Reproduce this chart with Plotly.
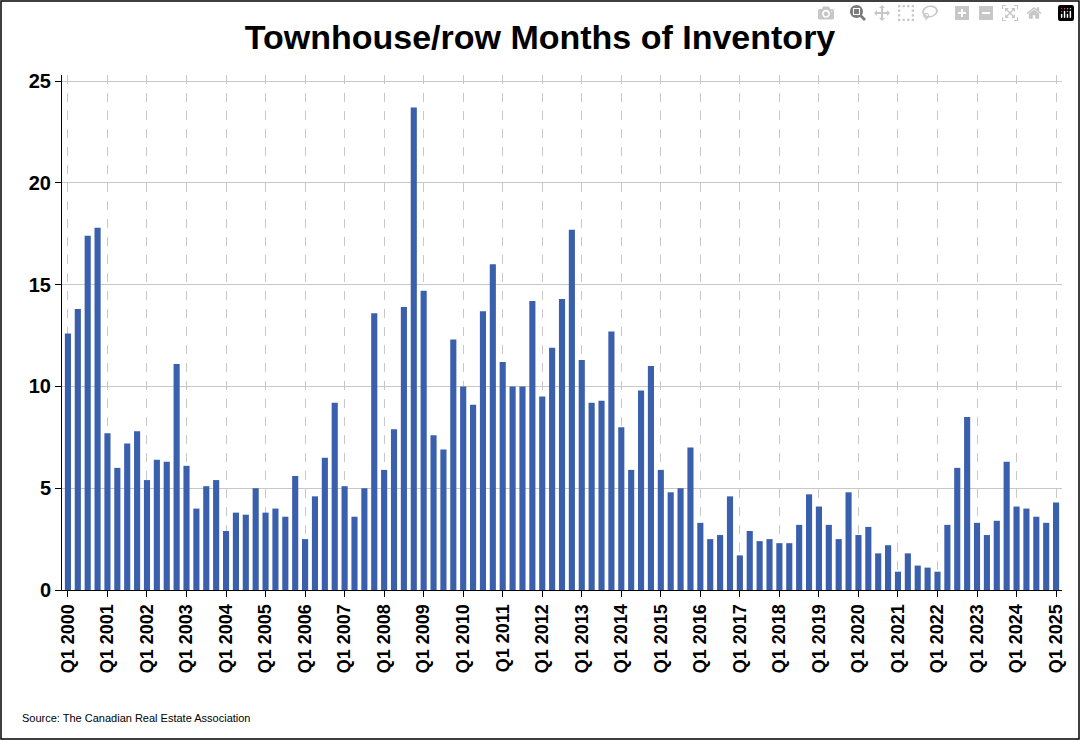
import plotly.graph_objects as go

years = list(range(2000, 2026))
quarters = [f"Q{q} {y}" for y in years for q in range(1, 5)][:101]
values = [12.6, 13.8, 17.4, 17.8,
          7.7, 6.0, 7.2, 7.8,
          5.4, 6.4, 6.3, 11.1,
          6.1, 4.0, 5.1, 5.4,
          2.9, 3.8, 3.7, 5.0,
          3.8, 4.0, 3.6, 5.6,
          2.5, 4.6, 6.5, 9.2,
          5.1, 3.6, 5.0, 13.6,
          5.9, 7.9, 13.9, 23.7,
          14.7, 7.6, 6.9, 12.3,
          10.0, 9.1, 13.7, 16.0,
          11.2, 10.0, 10.0, 14.2,
          9.5, 11.9, 14.3, 17.7,
          11.3, 9.2, 9.3, 12.7,
          8.0, 5.9, 9.8, 11.0,
          5.9, 4.8, 5.0, 7.0,
          3.3, 2.5, 2.7, 4.6,
          1.7, 2.9, 2.4, 2.5,
          2.3, 2.3, 3.2, 4.7,
          4.1, 3.2, 2.5, 4.8,
          2.7, 3.1, 1.8, 2.2,
          0.9, 1.8, 1.2, 1.1,
          0.9, 3.2, 6.0, 8.5,
          3.3, 2.7, 3.4, 6.3,
          4.1, 4.0, 3.6, 3.3,
          4.3]
tick_labels = [q for q in quarters if q.startswith("Q1")]
tick_text = [f"<b>{q}</b>" for q in tick_labels]

fig = go.Figure(go.Bar(x=quarters, y=values, marker_color="#3a5fad",
                       marker_line_width=0, width=0.62))
L, R, T, B = 62, 18, 75, 150
W, H = 1080, 740
pw, ph = W - L - R, H - T - B
fig.update_layout(
    width=W, height=H, margin=dict(l=L, r=R, t=T, b=B),
    plot_bgcolor="white", paper_bgcolor="white",
    font=dict(family="Arial, Liberation Sans", color="black"),
    title=dict(text="<b>Townhouse/row Months of Inventory</b>", x=0.5, xanchor="center",
               y=0.95, yanchor="middle", font=dict(size=34, color="black")),
    showlegend=False,
    xaxis=dict(type="category", tickvals=tick_labels, ticktext=tick_text, tickangle=-90,
               tickfont=dict(size=18), showgrid=True,
               gridcolor="#c8c8c8", griddash="dash", gridwidth=1,
               ticks="outside", ticklen=6, tickcolor="black",
               showline=True, linecolor="black", linewidth=1,
               range=[-0.6, 100.6]),
    yaxis=dict(range=[0, 25.3], tickvals=[0, 5, 10, 15, 20, 25],
               ticktext=[f"<b>{v}</b>" for v in [0, 5, 10, 15, 20, 25]], showgrid=True,
               gridcolor="#c8c8c8", gridwidth=1, ticks="outside", ticklen=6,
               tickcolor="black", showline=True, linecolor="black",
               tickfont=dict(size=20), zeroline=False),
    shapes=[dict(type="rect", xref="paper", yref="paper",
                 x0=-(L - 1) / pw, x1=1 + (R - 1) / pw,
                 y0=-(B - 1) / ph, y1=1 + (T - 1) / ph,
                 line=dict(color="black", width=1.5))],
    annotations=[dict(text="Source: The Canadian Real Estate Association", xref="paper",
                      yref="paper", x=-(L - 20) / pw, y=-(B - 22) / ph, xanchor="left",
                      yanchor="middle", showarrow=False, font=dict(size=11))],
)
fig.write_html("out.html")
with open("out.html", encoding="utf-8") as f:
    html = f.read()
html = html.replace("<head>", "<head><style>html,body{margin:0;padding:0;overflow:hidden}</style>", 1)
with open("out.html", "w", encoding="utf-8") as f:
    f.write(html)
